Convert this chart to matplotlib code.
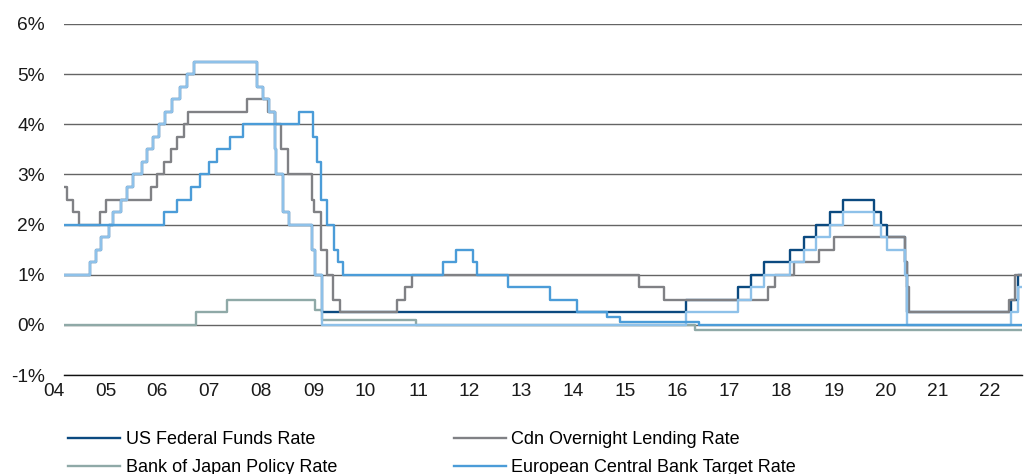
import numpy as np
import matplotlib
matplotlib.use('Agg')
import matplotlib.pyplot as plt

plt.rcParams['font.family'] = ['Liberation Sans', 'DejaVu Sans']

# step series: dates of rate changes (decimal years) and rate after the change (%)
fed_upper_dates = [2004.0, 2004.50, 2004.61, 2004.72, 2004.86, 2004.95, 2005.09, 2005.22, 2005.33,
                   2005.50, 2005.60, 2005.72, 2005.83, 2005.95, 2006.08, 2006.24, 2006.36, 2006.49,
                   2007.71, 2007.83, 2007.94, 2008.06, 2008.08, 2008.21, 2008.33, 2008.77, 2008.82,
                   2008.96, 2015.96, 2016.95, 2017.20, 2017.45, 2017.95, 2018.22, 2018.45, 2018.73,
                   2018.97, 2019.58, 2019.71, 2019.83, 2020.17, 2020.20, 2022.21, 2022.34, 2022.42]
fed_upper = [1.00, 1.25, 1.50, 1.75, 2.00, 2.25, 2.50, 2.75, 3.00,
             3.25, 3.50, 3.75, 4.00, 4.25, 4.50, 4.75, 5.00, 5.25,
             4.75, 4.50, 4.25, 3.50, 3.00, 2.25, 2.00, 1.50, 1.00,
             0.25, 0.50, 0.75, 1.00, 1.25, 1.50, 1.75, 2.00, 2.25,
             2.50, 2.25, 2.00, 1.75, 1.25, 0.25, 0.50, 1.00, 1.00]
fed_lower = [1.00, 1.25, 1.50, 1.75, 2.00, 2.25, 2.50, 2.75, 3.00,
             3.25, 3.50, 3.75, 4.00, 4.25, 4.50, 4.75, 5.00, 5.25,
             4.75, 4.50, 4.25, 3.50, 3.00, 2.25, 2.00, 1.50, 1.00,
             0.00, 0.25, 0.50, 0.75, 1.00, 1.25, 1.50, 1.75, 2.00,
             2.25, 2.00, 1.75, 1.50, 1.00, 0.00, 0.25, 0.75, 0.75]

cdn_dates = [2004.0, 2004.05, 2004.17, 2004.28, 2004.69, 2004.80, 2005.68, 2005.79, 2005.93,
             2006.06, 2006.18, 2006.31, 2006.39, 2007.52, 2007.92, 2008.06, 2008.17, 2008.30,
             2008.77, 2008.80, 2008.94, 2009.05, 2009.17, 2009.30, 2010.41, 2010.55, 2010.69,
             2015.05, 2015.54, 2017.53, 2017.68, 2018.04, 2018.52, 2018.81, 2020.17, 2020.20,
             2020.24, 2022.17, 2022.28, 2022.42]
cdn = [2.75, 2.50, 2.25, 2.00, 2.25, 2.50, 2.75, 3.00, 3.25,
       3.50, 3.75, 4.00, 4.25, 4.50, 4.25, 4.00, 3.50, 3.00,
       2.50, 2.25, 1.50, 1.00, 0.50, 0.25, 0.50, 0.75, 1.00,
       0.75, 0.50, 0.75, 1.00, 1.25, 1.50, 1.75, 1.25, 0.75,
       0.25, 0.50, 1.00, 1.00]

boj_dates = [2004.0, 2006.54, 2007.14, 2008.83, 2008.97, 2010.76, 2016.13, 2022.42]
boj = [0.00, 0.25, 0.50, 0.30, 0.10, 0.00, -0.10, -0.10]

ecb_dates = [2004.0, 2005.93, 2006.18, 2006.45, 2006.61, 2006.78, 2006.95, 2007.20, 2007.45,
             2008.52, 2008.79, 2008.87, 2008.94, 2009.05, 2009.19, 2009.27, 2009.36, 2011.28,
             2011.53, 2011.86, 2011.95, 2012.53, 2013.35, 2013.87, 2014.44, 2014.69, 2016.21,
             2022.42]
ecb = [2.00, 2.25, 2.50, 2.75, 3.00, 3.25, 3.50, 3.75, 4.00,
       4.25, 3.75, 3.25, 2.50, 2.00, 1.50, 1.25, 1.00, 1.25,
       1.50, 1.25, 1.00, 0.75, 0.50, 0.25, 0.15, 0.05, 0.00,
       0.00]

year_ticks = list(range(2004, 2023))
year_labels = ['%02d' % (y % 100) for y in year_ticks]
y_ticks = [-1, 0, 1, 2, 3, 4, 5, 6]

c_fed = '#0B4A80'
c_cdn = '#808185'
c_boj = '#8FA9A7'
c_fedlow = '#8EC1E9'
c_ecb = '#4B9CD8'

fig = plt.figure(figsize=(10.24, 4.74), dpi=100)
ax = fig.add_axes([64 / 1024, 1 - 375 / 474, 958 / 1024, 351 / 474])

lw = 1.7
h_fed, = ax.step(fed_upper_dates, fed_upper, where='post', color=c_fed, lw=lw, label='US Federal Funds Rate', zorder=3)
h_boj, = ax.step(boj_dates, boj, where='post', color=c_boj, lw=lw, label='Bank of Japan Policy Rate', zorder=4)
h_cdn, = ax.step(cdn_dates, cdn, where='post', color=c_cdn, lw=lw, label='Cdn Overnight Lending Rate', zorder=5)
ax.step(fed_upper_dates, fed_lower, where='post', color=c_fedlow, lw=lw, zorder=6)
h_ecb, = ax.step(ecb_dates, ecb, where='post', color=c_ecb, lw=lw, label='European Central Bank Target Rate', zorder=7)

ax.set_xlim(2004.0, 2022.42)
ax.set_ylim(-1, 6)
ax.set_yticks(y_ticks)
ax.set_yticklabels(['%d%%' % v for v in y_ticks])
ax.set_xticks(year_ticks)
ax.set_xticklabels(year_labels, ha='right')
ax.tick_params(axis='both', length=0, labelsize=13.8, colors='#1a1a1a')
ax.tick_params(axis='y', pad=14)
ax.tick_params(axis='x', pad=6)
ax.yaxis.grid(True, color='#646464', lw=1.0)
ax.set_axisbelow(True)
for s in ['top', 'right', 'left']:
    ax.spines[s].set_visible(False)
ax.spines['bottom'].set_color('#111111')
ax.spines['bottom'].set_linewidth(1.0)

fig.legend(handles=[h_fed, h_boj, h_cdn, h_ecb], ncol=2, frameon=False, fontsize=13,
           loc='upper left', bbox_to_anchor=(68 / 1024, 1 - 431 / 474),
           handlelength=2.9, handletextpad=0.3, columnspacing=6.45, labelspacing=0.62,
           borderpad=0, borderaxespad=0)

fig.savefig('out.png', dpi=100)
